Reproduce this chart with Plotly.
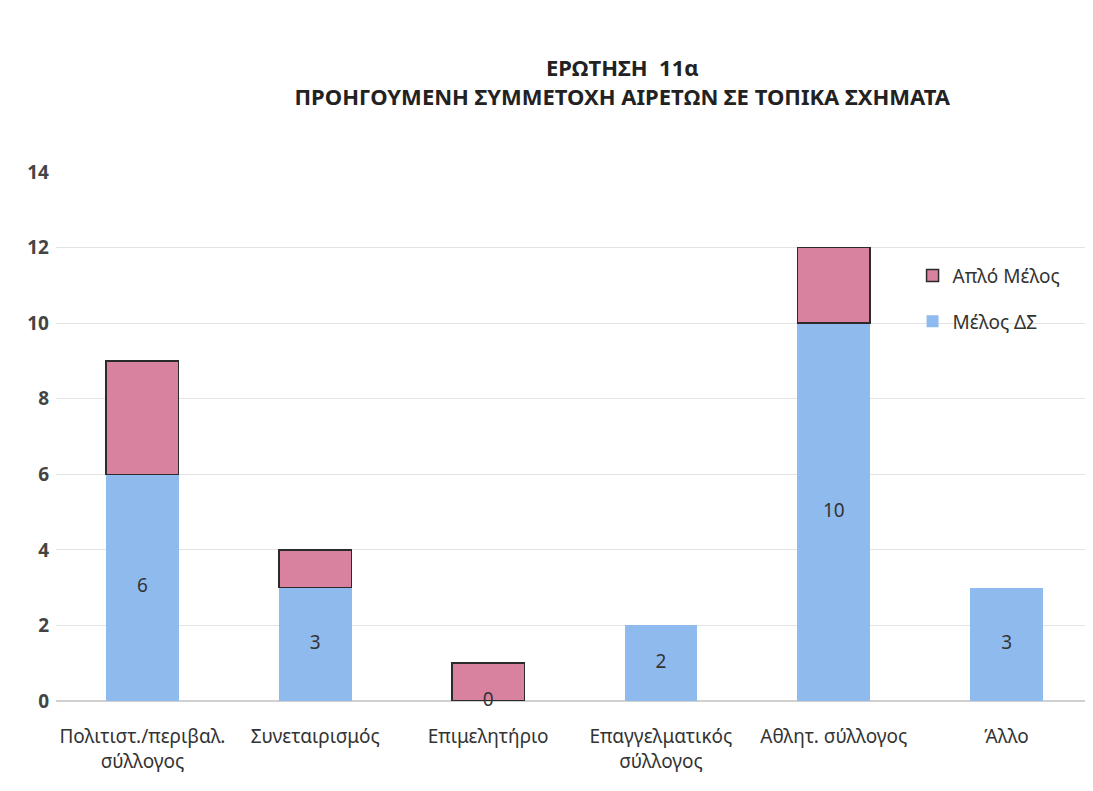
import plotly.graph_objects as go

categories = ["Πολιτιστ./περιβαλ.<br>σύλλογος", "Συνεταιρισμός", "Επιμελητήριο",
              "Επαγγελματικός<br>σύλλογος", "Αθλητ. σύλλογος", "Άλλο"]
melos_ds = [6, 3, 0, 2, 10, 3]
aplo_melos = [3, 1, 1, 0, 2, 0]
y_ticks = [0, 2, 4, 6, 8, 10, 12, 14]

FONT = "Noto Sans"
fig = go.Figure()
fig.add_trace(go.Bar(
    x=categories, y=melos_ds, name="Μέλος ΔΣ", legendgroup="b", legendrank=2,
    marker=dict(color="#8FBAEE", line=dict(width=0)),
    width=0.42,
))
fig.add_trace(go.Bar(
    x=categories, y=aplo_melos, name="Απλό Μέλος", legendgroup="a", legendrank=1,
    marker=dict(color="#D9829F",
                line=dict(color="#2b2b2b", width=[1.5 if v > 0 else 0 for v in aplo_melos])),
    width=0.42,
))
fig.add_trace(go.Scatter(
    x=categories, y=[v / 2 for v in melos_ds], mode="text",
    text=[str(v) for v in melos_ds], textposition="middle center",
    textfont=dict(family=FONT, size=19, color="#333333"),
    showlegend=False, hoverinfo="skip", cliponaxis=False,
))

fig.update_layout(
    width=1093, height=791,
    barmode="stack",
    paper_bgcolor="white", plot_bgcolor="white",
    margin=dict(l=48, r=8, t=164, b=98),
    title=dict(
        text="ΕΡΩΤΗΣΗ  11α<br>ΠΡΟΗΓΟΥΜΕΝΗ ΣΥΜΜΕΤΟΧΗ ΑΙΡΕΤΩΝ ΣΕ ΤΟΠΙΚΑ ΣΧΗΜΑΤΑ",
        x=0.562, xanchor="center", y=0.914, yanchor="middle",
        font=dict(family=FONT, size=22, color="#222222", weight="bold"),
    ),
    legend=dict(
        x=0.826, y=0.84, xanchor="left", yanchor="top",
        traceorder="grouped",
        font=dict(family=FONT, size=19, color="#333333"),
        bgcolor="rgba(0,0,0,0)",
        tracegroupgap=18,
    ),
    showlegend=True,
)
fig.update_xaxes(
    tickfont=dict(family=FONT, size=19, color="#333333"),
    showgrid=False, showline=False, ticks="", ticklabelstandoff=22,
)
fig.update_yaxes(
    range=[0, 14], tickvals=y_ticks,
    tickfont=dict(family=FONT, size=19, color="#444444", weight="bold"),
    showgrid=True, gridcolor="#e3e3e3", gridwidth=1,
    zeroline=True, zerolinecolor="#d0d0d0", showline=False, ticks="",
    ticklabelstandoff=6,
)
fig.write_html("out.html")
